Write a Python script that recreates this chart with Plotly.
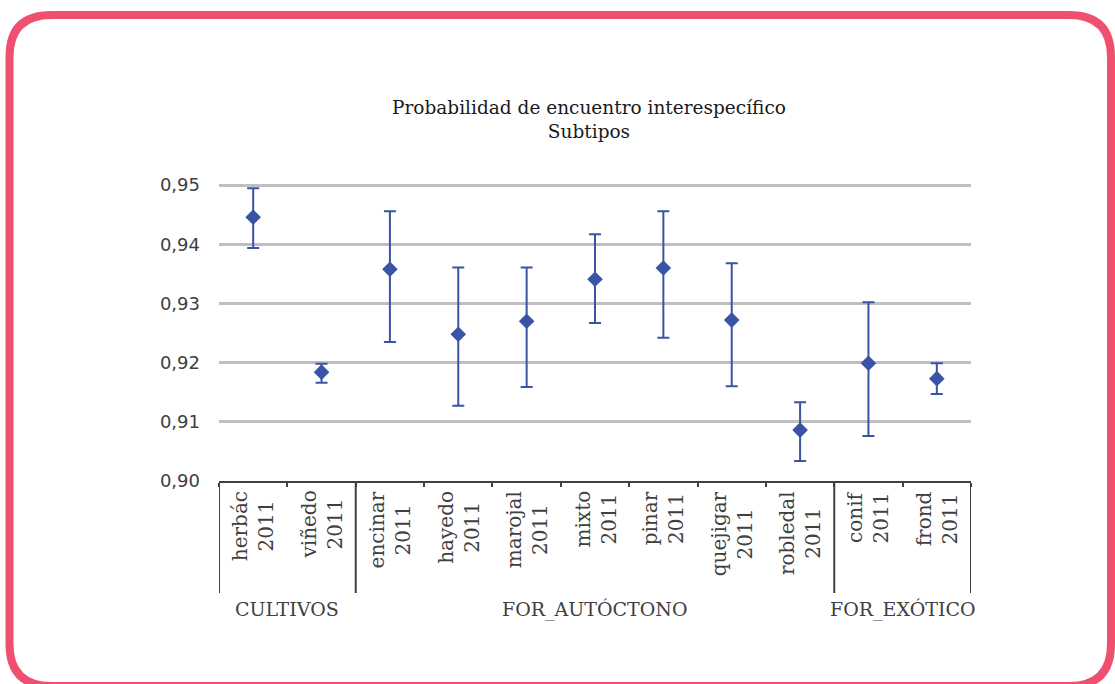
import plotly.graph_objects as go

# ---- data ----
categories = ["herbác", "viñedo", "encinar", "hayedo", "marojal", "mixto",
              "pinar", "quejigar", "robledal", "conif", "frond"]
year_label = "2011"
groups = ["CULTIVOS", "FOR_AUTÓCTONO", "FOR_EXÓTICO"]
group_sizes = [2, 7, 2]
mean_vals = [0.9446, 0.9184, 0.9358, 0.9248, 0.9270, 0.9341,
             0.9360, 0.9272, 0.9086, 0.9199, 0.9173]
upper_vals = [0.9495, 0.9198, 0.9456, 0.9361, 0.9361, 0.9417,
              0.9456, 0.9368, 0.9133, 0.9302, 0.9199]
lower_vals = [0.9394, 0.9166, 0.9235, 0.9127, 0.9159, 0.9267,
              0.9242, 0.9160, 0.9034, 0.9076, 0.9147]
y_ticks = [0.90, 0.91, 0.92, 0.93, 0.94, 0.95]

# ---- layout geometry (pixels) ----
W, H = 1115, 684
L, R, T, B = 219, 971, 184, 481
PW, PH = R - L, B - T

def px(X):
    return (X - L) / PW

def py(Y):
    return (B - Y) / PH

BLUE = "#3954A5"
DARK = "#404040"
SERIF = "DejaVu Serif"
SANS = "DejaVu Sans"

fig = go.Figure()
fig.add_trace(go.Scatter(
    x=categories, y=mean_vals, mode="markers",
    marker=dict(symbol="diamond", size=12, color=BLUE),
    error_y=dict(type="data", symmetric=False,
                 array=[u - m for u, m in zip(upper_vals, mean_vals)],
                 arrayminus=[m - l for m, l in zip(mean_vals, lower_vals)],
                 color=BLUE, thickness=2, width=6),
    showlegend=False, hoverinfo="skip",
))

shapes = []
annotations = []

# category labels (rotated, two lines)
for c in categories:
    annotations.append(dict(
        x=c, xref="x", y=py(489), yref="paper",
        text=f"{c}<br>{year_label}", showarrow=False, textangle=-90,
        xanchor="center", yanchor="top", align="center",
        font=dict(family=SERIF, size=20, color=DARK),
    ))

# group dividers and labels
start = 0
bounds = [-0.5]
for g, n in zip(groups, group_sizes):
    end = start + n
    bounds.append(end - 0.5)
    annotations.append(dict(
        x=(start + end - 1) / 2, xref="x", y=py(609), yref="paper",
        text=g, showarrow=False, xanchor="center", yanchor="middle",
        font=dict(family=SERIF, size=19, color=DARK),
    ))
    start = end
for b in bounds:
    shapes.append(dict(type="line", xref="x", yref="paper",
                       x0=b, x1=b, y0=0, y1=py(593),
                       line=dict(color=DARK, width=2)))

# rounded pink frame
x0, x1, y0, y1, r = 9.5, 1111, 15, 686, 42
pts = (f"M {px(x0 + r)},{py(y0)} L {px(x1 - r)},{py(y0)} "
       f"Q {px(x1)},{py(y0)} {px(x1)},{py(y0 + r)} "
       f"L {px(x1)},{py(y1 - r)} Q {px(x1)},{py(y1)} {px(x1 - r)},{py(y1)} "
       f"L {px(x0 + r)},{py(y1)} Q {px(x0)},{py(y1)} {px(x0)},{py(y1 - r)} "
       f"L {px(x0)},{py(y0 + r)} Q {px(x0)},{py(y0)} {px(x0 + r)},{py(y0)} Z")
shapes.append(dict(type="path", xref="paper", yref="paper", path=pts,
                   line=dict(color="#F0506F", width=8), layer="below"))

fig.update_layout(
    width=W, height=H,
    margin=dict(l=L, r=W - R, t=T, b=H - B, pad=0),
    paper_bgcolor="white", plot_bgcolor="white",
    separators=", ",
    title=dict(text="Probabilidad de encuentro interespecífico<br>Subtipos",
               x=589 / W, xanchor="center", xref="container",
               y=1 - 114 / H, yanchor="top", yref="container",
               font=dict(family=SERIF, size=18.5, color="#1a1a1a")),
    xaxis=dict(type="category", range=[-0.5, len(categories) - 0.5],
               showticklabels=False, showgrid=False, zeroline=False,
               showline=True, linecolor=DARK, linewidth=2,
               ticks="outside", tickson="boundaries", ticklen=4,
               tickcolor=DARK, tickwidth=2),
    yaxis=dict(range=[0.90, 0.9502], tickvals=y_ticks, tickformat=".2f",
               showgrid=True, gridcolor="#BFBFBF", gridwidth=2.5,
               zeroline=False, showline=False, ticks="",
               ticklabelstandoff=18,
               tickfont=dict(family=SANS, size=18, color=DARK)),
    shapes=shapes, annotations=annotations,
)

fig.write_html("out.html")
